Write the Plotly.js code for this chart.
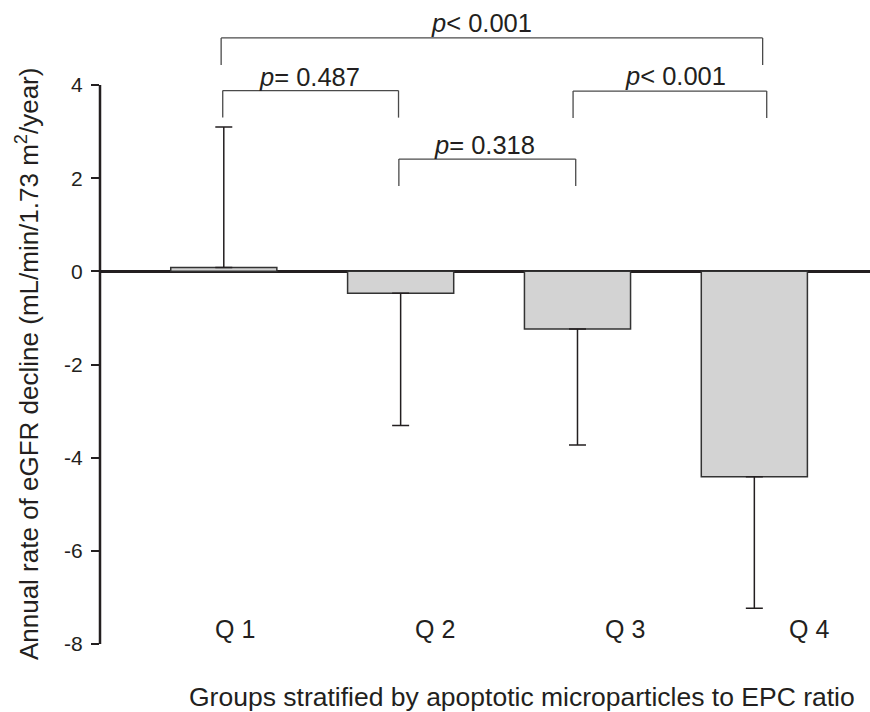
<!DOCTYPE html>
<html>
<head>
<meta charset="utf-8">
<script src="https://cdn.plot.ly/plotly-3.0.1.min.js"></script>
<style>html,body{margin:0;padding:0;background:#fff;}#chart{width:870px;height:712px;}</style>
</head>
<body>
<div id="chart"></div>
<script>
// ---- data ----
const categories = ['Q 1', 'Q 2', 'Q 3', 'Q 4'];
const meanDecline = [0.08, -0.47, -1.24, -4.41];
const errUp = [3.02, 0, 0, 0];
const errDown = [0, 2.84, 2.49, 2.82];
const yTicks = [-8, -6, -4, -2, 0, 2, 4];
const compLeft = ['Q 1', 'Q 1', 'Q 2', 'Q 3'];
const compRight = ['Q 4', 'Q 2', 'Q 3', 'Q 4'];
const pValues = ['< 0.001', '= 0.487', '= 0.318', '< 0.001'];
const yTitle = 'Annual rate of eGFR decline (mL/min/1.73 m<sup>2</sup>/year)';
const xTitle = 'Groups stratified by apoptotic microparticles to EPC ratio';

// ---- styling / placement ----
const FONT = 'Liberation Sans, Arial, Helvetica, sans-serif';
const INK = '#231f20';
const bracketY = [5.01, 3.88, 2.41, 3.87];
const legDrop = 0.58;
const leftNudge = [-0.015, -0.006, -0.01, -0.025];
const rightNudge = [0.047, -0.012, -0.01, 0.07];
const labelY = [5.335, 4.18, 2.72, 4.19];
const labelShift = [-10, -1, -3, 6];
const qLabelShift = [11, 34, 48, 55];

const shapes = [];
const annotations = [];

// y axis line from -8 to 4
shapes.push({type: 'line', xref: 'paper', yref: 'y', x0: 0, x1: 0, y0: yTicks[0], y1: yTicks[yTicks.length - 1],
  line: {color: INK, width: 2.5}});

compLeft.forEach((c, i) => {
  const xl = categories.indexOf(c) + leftNudge[i];
  const xr = categories.indexOf(compRight[i]) + rightNudge[i];
  const y = bracketY[i];
  const ln = {color: '#4a4a4a', width: 1.3};
  shapes.push({type: 'line', xref: 'x', yref: 'y', x0: xl, x1: xr, y0: y, y1: y, line: ln});
  shapes.push({type: 'line', xref: 'x', yref: 'y', x0: xl, x1: xl, y0: y, y1: y - legDrop, line: ln});
  shapes.push({type: 'line', xref: 'x', yref: 'y', x0: xr, x1: xr, y0: y, y1: y - legDrop, line: ln});
  annotations.push({xref: 'x', yref: 'y', x: (xl + xr) / 2, y: labelY[i], xshift: labelShift[i],
    text: '<i>p</i>' + pValues[i].replace('<', '&lt;'), showarrow: false,
    xanchor: 'center', yanchor: 'middle', font: {family: FONT, size: 25.5, color: INK}});
});

categories.forEach((c, i) => {
  annotations.push({xref: 'x', yref: 'y', x: c, y: -7.68, xshift: qLabelShift[i], text: c, showarrow: false,
    xanchor: 'center', yanchor: 'middle', font: {family: FONT, size: 25, color: INK}});
});

annotations.push({xref: 'paper', yref: 'paper', x: 0.548, y: -0.0825, text: xTitle, showarrow: false,
  xanchor: 'center', yanchor: 'middle', height: 28, borderpad: 0, valign: 'middle',
  font: {family: FONT, size: 26.5, color: INK}});
annotations.push({xref: 'paper', yref: 'paper', x: -0.094, y: 0.437, text: yTitle, showarrow: false,
  textangle: -90, xanchor: 'center', yanchor: 'middle', font: {family: FONT, size: 26, color: INK}});

const trace = {
  type: 'bar', x: categories, y: meanDecline, width: 0.6,
  marker: {color: '#d3d3d3', line: {color: '#333333', width: 1.5}},
  error_y: {type: 'data', symmetric: false, array: errUp, arrayminus: errDown,
    color: INK, thickness: 1.5, width: 8.5},
  hoverinfo: 'none'
};

const layout = {
  width: 870, height: 712,
  margin: {l: 100, r: 0, t: 2, b: 68},
  paper_bgcolor: '#fff', plot_bgcolor: '#fff',
  showlegend: false,
  font: {family: FONT, color: INK},
  xaxis: {type: 'category', range: [-0.7, 3.654], showline: false, showgrid: false, zeroline: false,
    showticklabels: false, ticks: ''},
  yaxis: {range: [-8, 5.782], showline: false, showgrid: false,
    zeroline: true, zerolinecolor: INK, zerolinewidth: 2.5,
    tickvals: yTicks, ticktext: yTicks.map(String), ticks: 'outside', ticklen: 8, tickwidth: 2, tickcolor: INK,
    ticklabelstandoff: 4, tickfont: {family: FONT, size: 21, color: INK}},
  shapes: shapes,
  annotations: annotations
};

Plotly.newPlot('chart', [trace], layout, {displayModeBar: false, staticPlot: true});
</script>
</body>
</html>
